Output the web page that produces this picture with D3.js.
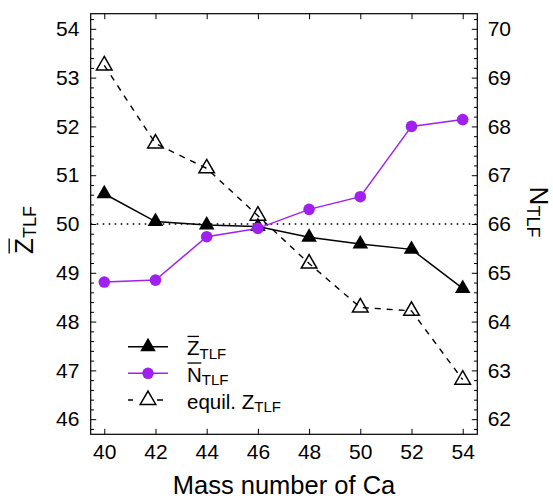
<!DOCTYPE html>
<html>
<head>
<meta charset="utf-8">
<script src="https://cdn.jsdelivr.net/npm/d3@7"></script>
<style>
  html, body { margin: 0; padding: 0; background: #fff; }
  svg { display: block; }
  text { font-family: "Liberation Sans", Arial, Helvetica, sans-serif; fill: #000; }
</style>
</head>
<body>
<svg id="chart" width="553" height="500"></svg>
<script>
// ---- data ----
const massNumbers = [40, 42, 44, 46, 48, 50, 52, 54];
const zBar   = [50.62, 50.05, 49.98, 49.95, 49.73, 49.59, 49.48, 48.68];
const nBar   = [64.81, 64.85, 65.74, 65.91, 66.30, 66.56, 68.00, 68.14];
const zEquil = [53.25, 51.65, 51.14, 50.17, 49.19, 48.29, 48.22, 46.81];
const xTicks = [40, 42, 44, 46, 48, 50, 52, 54];
const yLeftTicks = [46, 47, 48, 49, 50, 51, 52, 53, 54];
const yRightTicks = [62, 63, 64, 65, 66, 67, 68, 69, 70];
const referenceZ = 50;

// ---- layout ----
const L = 90.7, R = 477.3, T = 13.7, B = 434.3;
const purple = "#a020f0";

const svg = d3.select("#chart");
const x = d3.scaleLinear().domain([39.47, 54.57]).range([L, R]);
const yL = d3.scaleLinear().domain([45.69, 54.31]).range([B, T]);
const yR = d3.scaleLinear().domain([61.69, 70.31]).range([B, T]);

function minorTicks(scale, step) {
  const [a, b] = scale.domain();
  const out = [];
  for (let v = Math.ceil(a / step) * step; v <= b + 1e-9; v += step) {
    const r = Math.round(v * 10) / 10;
    if (Math.abs(r - Math.round(r)) > 1e-6) out.push(r);
  }
  return out;
}

const tickFont = "21px";

// bottom axis
const gB = svg.append("g").attr("transform", `translate(0,${B})`)
  .call(d3.axisBottom(x).tickValues(xTicks).tickSizeInner(-5.5).tickSizeOuter(0).tickPadding(9.7).tickFormat(d3.format("d")));
// top axis (ticks only)
const gT = svg.append("g").attr("transform", `translate(0,${T})`)
  .call(d3.axisTop(x).tickValues(xTicks).tickSizeInner(-5.5).tickSizeOuter(0).tickFormat(""));
// left axis
const gLft = svg.append("g").attr("transform", `translate(${L},0)`)
  .call(d3.axisLeft(yL).tickValues(yLeftTicks).tickSizeInner(-5.5).tickSizeOuter(0).tickPadding(11.4).tickFormat(d3.format("d")));
const gLm = svg.append("g").attr("transform", `translate(${L},0)`)
  .call(d3.axisLeft(yL).tickValues(minorTicks(yL, 0.2)).tickSizeInner(-3.3).tickSizeOuter(0).tickFormat(""));
// right axis
const gRt = svg.append("g").attr("transform", `translate(${R},0)`)
  .call(d3.axisRight(yR).tickValues(yRightTicks).tickSizeInner(-5.5).tickSizeOuter(0).tickPadding(10.4).tickFormat(d3.format("d")));
const gRm = svg.append("g").attr("transform", `translate(${R},0)`)
  .call(d3.axisRight(yR).tickValues(minorTicks(yR, 0.2)).tickSizeInner(-3.3).tickSizeOuter(0).tickFormat(""));

[gB, gT, gLft, gLm, gRt, gRm].forEach(g => {
  g.select(".domain").remove();
  g.selectAll("line").attr("stroke", "#000").attr("stroke-width", 1);
  g.selectAll("text").style("font-size", tickFont).attr("fill", "#000")
    .style("font-family", '"Liberation Sans", Arial, Helvetica, sans-serif');
});

// reference dotted line at Z = 50
svg.append("line")
  .attr("x1", L).attr("x2", R).attr("y1", yL(referenceZ)).attr("y2", yL(referenceZ))
  .attr("stroke", "#000").attr("stroke-width", 1.6).attr("stroke-dasharray", "1.6,4.4");

const data = massNumbers.map((m, i) => ({ m, z: zBar[i], n: nBar[i], e: zEquil[i] }));

const triSize = 105;
const tri = d3.symbol().type(d3.symbolTriangle).size(triSize);

// equilibrium Z (dashed, open triangles)
svg.append("path").datum(data)
  .attr("fill", "none").attr("stroke", "#000").attr("stroke-width", 1.4)
  .attr("stroke-dasharray", "6,6")
  .attr("d", d3.line().x(d => x(d.m)).y(d => yL(d.e)));
svg.selectAll(".eq").data(data).enter().append("path")
  .attr("transform", d => `translate(${x(d.m)},${yL(d.e)})`)
  .attr("d", tri).attr("fill", "none").attr("stroke", "#000").attr("stroke-width", 1.5);

// Z bar (solid black, filled triangles)
svg.append("path").datum(data)
  .attr("fill", "none").attr("stroke", "#000").attr("stroke-width", 1.5)
  .attr("d", d3.line().x(d => x(d.m)).y(d => yL(d.z)));
svg.selectAll(".zb").data(data).enter().append("path")
  .attr("transform", d => `translate(${x(d.m)},${yL(d.z)})`)
  .attr("d", tri).attr("fill", "#000");

// N bar (purple, circles, right axis)
svg.append("path").datum(data)
  .attr("fill", "none").attr("stroke", purple).attr("stroke-width", 1.5)
  .attr("d", d3.line().x(d => x(d.m)).y(d => yR(d.n)));
svg.selectAll(".nb").data(data).enter().append("circle")
  .attr("cx", d => x(d.m)).attr("cy", d => yR(d.n)).attr("r", 5.8).attr("fill", purple);

// frame
svg.append("rect").attr("x", L).attr("y", T).attr("width", R - L).attr("height", B - T)
  .attr("fill", "none").attr("stroke", "#000").attr("stroke-width", 1.2);

// helper: text with subscript and optional overline
function subText(g, px, py, main, sub, mainSize, subSize, subDy, overline, anchorMid) {
  const t = g.append("text").attr("x", px).attr("y", py);
  const tm = t.append("tspan").text(main).style("font-size", mainSize + "px");
  t.append("tspan").text(sub).style("font-size", subSize + "px").attr("dy", subDy);
  let w = t.node().getComputedTextLength();
  let x0 = px;
  if (anchorMid) { x0 = px - w / 2; t.attr("x", x0); }
  if (overline) {
    const mw = tm.node().getComputedTextLength();
    const oy = py - mainSize * 0.716 - mainSize * 0.2;
    g.append("line").attr("x1", x0 + 0.5).attr("x2", x0 + mw - 0.5)
      .attr("y1", oy).attr("y2", oy).attr("stroke", "#000").attr("stroke-width", 1.3);
  }
  return t;
}

// axis titles
svg.append("text").attr("x", (L + R) / 2).attr("y", 494).attr("text-anchor", "middle")
  .style("font-size", "25.5px").text("Mass number of Ca");

const gYL = svg.append("g").attr("transform", `translate(33,230) rotate(-90)`);
subText(gYL, 0, 0, "Z", "TLF", 26, 18, 3, true, true);

const gYR = svg.append("g").attr("transform", `translate(530,212) rotate(90)`);
subText(gYR, 0, 0, "N", "TLF", 26, 18, 3.5, false, true);

// legend
const legY = [346.7, 373.3, 400];
const lx1 = 128, lx2 = 168, ltx = 187;
svg.append("line").attr("x1", lx1).attr("x2", lx2).attr("y1", legY[0]).attr("y2", legY[0])
  .attr("stroke", "#000").attr("stroke-width", 1.5);
svg.append("path").attr("transform", `translate(${(lx1 + lx2) / 2},${legY[0]})`).attr("d", tri).attr("fill", "#000");
subText(svg, ltx, legY[0] + 8.5, "Z", "TLF", 20.5, 15, 3.3, true, false);

svg.append("line").attr("x1", lx1).attr("x2", lx2).attr("y1", legY[1]).attr("y2", legY[1])
  .attr("stroke", purple).attr("stroke-width", 1.5);
svg.append("circle").attr("cx", (lx1 + lx2) / 2).attr("cy", legY[1]).attr("r", 5.8).attr("fill", purple);
subText(svg, ltx, legY[1] + 8.5, "N", "TLF", 20.5, 15, 3.3, true, false);

svg.append("line").attr("x1", lx1).attr("x2", lx2).attr("y1", legY[2]).attr("y2", legY[2])
  .attr("stroke", "#000").attr("stroke-width", 1.4).attr("stroke-dasharray", "5,24,6,10");
svg.append("path").attr("transform", `translate(${(lx1 + lx2) / 2},${legY[2]})`).attr("d", tri)
  .attr("fill", "none").attr("stroke", "#000").attr("stroke-width", 1.5);
subText(svg, ltx, legY[2] + 8.5, "equil. Z", "TLF", 20.5, 15, 3.3, false, false);
</script>
</body>
</html>
